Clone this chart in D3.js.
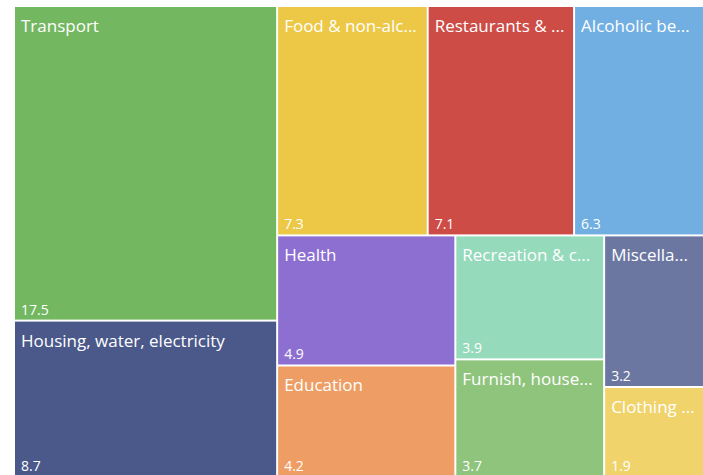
<!DOCTYPE html>
<html>
<head>
<meta charset="utf-8">
<script src="https://cdn.jsdelivr.net/npm/d3@7"></script>
<style>
  html, body { margin: 0; padding: 0; background: #ffffff; }
  svg { display: block; }
  text { font-family: "Segoe UI", "Open Sans", "Noto Sans", sans-serif; fill: #ffffff; }
</style>
</head>
<body>
<svg id="chart" width="703" height="475"></svg>
<script>
const categories = [
  "Transport",
  "Housing, water, electricity",
  "Food & non-alcoholic beverages",
  "Restaurants & hotels",
  "Alcoholic beverages, tobacco",
  "Health",
  "Education",
  "Recreation & culture",
  "Furnish, household equipment",
  "Miscellaneous goods & services",
  "Clothing & footwear"
];
const values = [17.5, 8.7, 7.3, 7.1, 6.3, 4.9, 4.2, 3.9, 3.7, 3.2, 1.9];
const colors = [
  "#73B761", "#4A588A", "#ECC846", "#CD4C46", "#71AFE2", "#8D6FD1",
  "#EE9E64", "#95DABB", "#8FC47D", "#6B77A1", "#F0D36B"
];

const svg = d3.select("#chart");
const offX = 15, offY = 7, W = 688, H = 469;

const data = { name: "root", children: categories.map((c, i) => ({ name: c, value: values[i], color: colors[i] })) };
const root = d3.hierarchy(data).sum(d => d.value || 0).sort((a, b) => b.value - a.value);
d3.treemap().tile(d3.treemapSquarify).size([W, H]).paddingInner(2).round(false)(root);

const g = svg.append("g").attr("transform", `translate(${offX},${offY})`);
const cell = g.selectAll("g.cell").data(root.leaves()).join("g").attr("class", "cell")
  .attr("transform", d => `translate(${d.x0},${d.y0})`);

cell.append("rect")
  .attr("width", d => d.x1 - d.x0)
  .attr("height", d => d.y1 - d.y0)
  .attr("fill", d => d.data.color);

function fit(textSel, full, maxW) {
  textSel.text(full);
  if (textSel.node().getComputedTextLength() <= maxW) return;
  let s = full;
  while (s.length > 0) {
    s = s.slice(0, -1);
    textSel.text(s + "...");
    if (textSel.node().getComputedTextLength() <= maxW) return;
  }
}

cell.each(function(d) {
  const w = d.x1 - d.x0, h = d.y1 - d.y0;
  const sel = d3.select(this);
  const t = sel.append("text").attr("x", 6).attr("y", 25).style("font-size", "17px");
  fit(t, d.data.name, w - 12);
  sel.append("text").attr("x", 6).attr("y", h - 5).style("font-size", "14px")
    .text(d3.format(".1f")(d.data.value));
});
</script>
</body>
</html>
